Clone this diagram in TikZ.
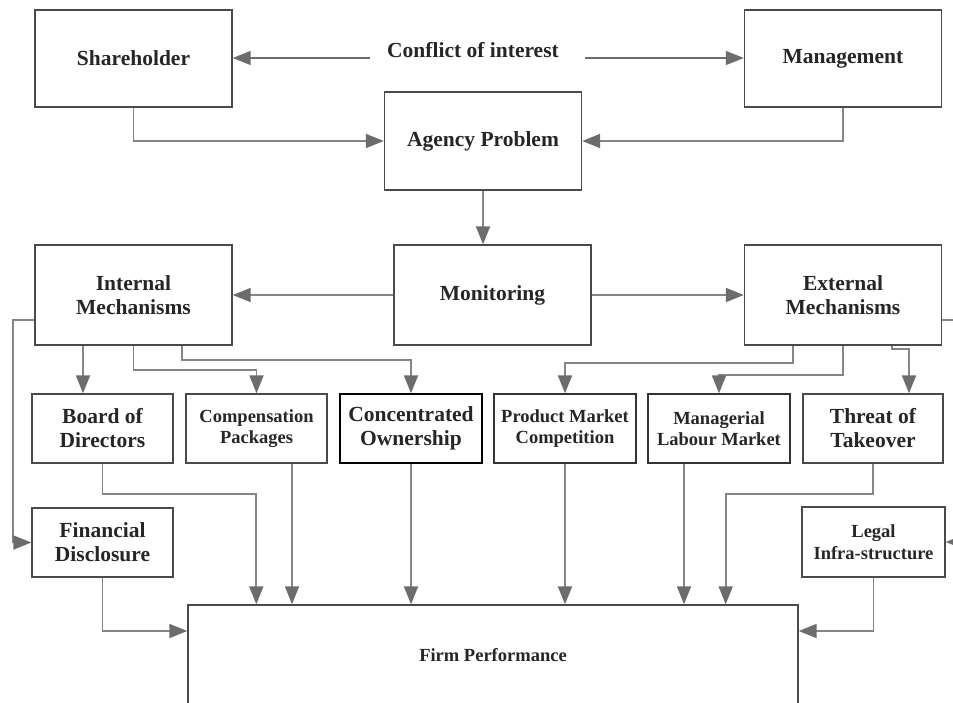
\documentclass[tikz,border=0pt]{standalone}
\usepackage{fontspec}
\setmainfont{Liberation Serif}
\usetikzlibrary{arrows.meta}
\definecolor{boxc}{HTML}{4A4A4A}
\definecolor{linec}{HTML}{858585}
\definecolor{tipc}{HTML}{6C6C6C}
\definecolor{txt}{HTML}{262626}
\begin{document}
\begin{tikzpicture}[x=1pt,y=-1pt,
  box/.style={draw=boxc, line width=1.4pt, fill=white, align=center, text=txt,
    inner sep=2pt, font=\bfseries\fontsize{21.5}{24}\selectfont},
  bigbox/.style={box, minimum width=197pt, minimum height=98pt},
  midbox/.style={box, minimum width=141pt, minimum height=69pt},
  smallbox/.style={midbox, font=\bfseries\fontsize{18.5}{21.5}\selectfont},
  arr/.style={draw=linec, line width=1.8pt, -{Triangle[length=18pt,width=14pt,color=tipc]}},
  carr/.style={draw=tipc, line width=1.5pt, -{Triangle[length=18pt,width=14pt,color=tipc]}}
]
\useasboundingbox[fill=white] (0,0) rectangle (953,702);

% top row
\node[bigbox, minimum height=97pt] (sh) at (133.5,58.5) {Shareholder};
\node[bigbox, minimum height=97pt] (mg) at (843,58.5) {Management};
\node[font=\bfseries\fontsize{21.5}{24}\selectfont, text=txt] (ci) at (473,50) {Conflict of interest};
\coordinate (cl) at (370,58);
\coordinate (cr) at (585,58);
\draw[carr] (cl) -- (sh.east |- cl);
\draw[carr] (cr) -- (mg.west |- cr);

\node[bigbox] (ap) at (483,141) {Agency Problem};

% mechanisms row
\node[bigbox, minimum height=100pt] (im) at (133.5,295) {Internal\\Mechanisms};
\node[bigbox, minimum height=100pt] (mo) at (492.5,295) {Monitoring};
\node[bigbox, minimum height=100pt] (em) at (843,295) {External\\Mechanisms};

% third row
\node[midbox] (bd) at (102.5,428.5) {Board of\\Directors};
\node[smallbox] (cp) at (256.5,428.5) {Compensation\\Packages};
\node[midbox, draw=black, minimum width=142pt] (co) at (411,428.5) {Concentrated\\Ownership};
\node[smallbox, draw=black!80, minimum width=142pt] (pm) at (565,428.5) {Product Market\\Competition};
\node[smallbox, draw=black!80, minimum width=142pt] (ml) at (719,428.5) {Managerial\\Labour Market};
\node[midbox, minimum width=140pt] (tt) at (873,428.5) {Threat of\\Takeover};

% fourth row
\node[midbox] (fd) at (102.5,542.5) {Financial\\Disclosure};
\node[smallbox, minimum width=143pt, minimum height=70pt] (lg) at (873.5,542) {Legal\\Infra-structure};

% firm performance
\node[box, minimum width=610pt, minimum height=100pt, font=\bfseries\fontsize{18.5}{21.5}\selectfont] (fp) at (493,655) {Firm Performance};

\coordinate (x83) at (83,0);
\coordinate (xr) at (958,320);

% connectors top
\draw[arr] (sh.south) |- (ap.west);
\draw[arr] (mg.south) |- (ap.east);
\draw[arr] (ap.south) -- (ap.south |- mo.north);
\draw[arr] (mo.west) -- (im.east);
\draw[arr] (mo.east) -- (em.west);

% internal mechanisms
\draw[arr] ([yshift=-25pt]im.west) -- ++(-21,0) |- (fd.west);
\draw[arr] (im.south -| x83) -- (bd.north -| x83);
\draw[arr] (im.south) -- ++(0,24) -| (cp.north);
\draw[arr] ([xshift=48.5pt]im.south) -- ++(0,14) -| (co.north);

% external mechanisms
\draw[arr] ([xshift=-50pt]em.south) -- ++(0,17) -| (pm.north);
\draw[arr] (em.south) -- ++(0,29) -| (ml.north);
\draw[arr] ([xshift=49pt]em.south) -- ++(0,3) -| ([xshift=36pt]tt.north);
\draw[arr] ([yshift=-25pt]em.east) -- (xr) |- (lg.east);

% to firm performance
\draw[arr] (bd.south) -- ++(0,30) -| ([xshift=69pt]fp.north west);
\draw[arr] ([xshift=35.5pt]cp.south) -- ([xshift=35.5pt]cp.south |- fp.north);
\draw[arr] (co.south) -- (co.south |- fp.north);
\draw[arr] (pm.south) -- (pm.south |- fp.north);
\draw[arr] ([xshift=-35pt]ml.south) -- ([xshift=-35pt]ml.south |- fp.north);
\draw[arr] (tt.south) -- ++(0,30) -| ([xshift=-73pt]fp.north east);
\draw[arr] (fd.south) |- ([yshift=24pt]fp.west);
\draw[arr] (lg.south) |- ([yshift=24pt]fp.east);
\end{tikzpicture}
\end{document}
